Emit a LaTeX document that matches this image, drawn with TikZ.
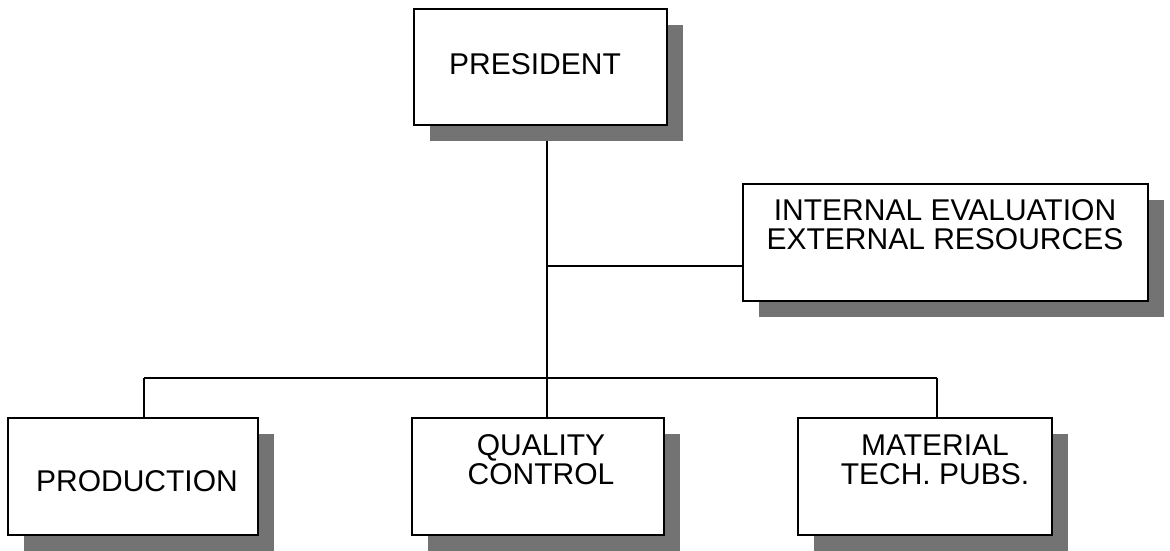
\documentclass[tikz,border=0pt]{standalone}
\usepackage{fontspec}
\setmainfont{Liberation Sans}
\usetikzlibrary{shadows,backgrounds}
\begin{document}
\begin{tikzpicture}[x=1pt,y=-1pt,
  orgbox/.style={draw=black, line width=1.9pt, fill=white, rectangle, inner sep=0pt,
    drop shadow={shadow xshift=16pt, shadow yshift=-16pt, fill=black!55, opacity=1}},
  lbl/.style={font=\fontsize{30}{29}\selectfont, align=center, inner sep=0pt},
  conn/.style={line width=1.9pt}]
\useasboundingbox (0,0) rectangle (1170,551);
\node[orgbox, minimum width=253pt, minimum height=116pt] (pres) at (540.5,67) {};
\node[lbl] (prest) at (535,64) {PRESIDENT};
\node[orgbox, minimum width=405pt, minimum height=117pt] (intl) at (945.5,242.5) {};
\node[lbl] (intlt) at (945,225) {INTERNAL EVALUATION\\EXTERNAL RESOURCES};
\node[orgbox, minimum width=250pt, minimum height=117pt] (prod) at (133,476.5) {};
\node[lbl] (prodt) at (137,481) {PRODUCTION};
\node[orgbox, minimum width=252pt, minimum height=117pt] (qual) at (538,476.5) {};
\node[lbl] (qualt) at (541,460) {QUALITY\\CONTROL};
\node[orgbox, minimum width=254pt, minimum height=117pt] (matl) at (925,476.5) {};
\node[lbl] (matlt) at (935,460) {MATERIAL\\TECH. PUBS.};
\coordinate (mid) at (547,266);
\coordinate (bus) at (547,378);
\coordinate (busl) at (144,378);
\coordinate (busr) at (937,378);
\begin{pgfonlayer}{background}
\draw[conn] (pres.south -| mid) -- (bus);
\draw[conn] (mid) -- (intl.west |- mid);
\draw[conn] (busl) -- (busr);
\draw[conn] (busl) -- (prod.north -| busl);
\draw[conn] (bus) -- (qual.north -| bus);
\draw[conn] (busr) -- (matl.north -| busr);
\end{pgfonlayer}
\end{tikzpicture}
\end{document}
